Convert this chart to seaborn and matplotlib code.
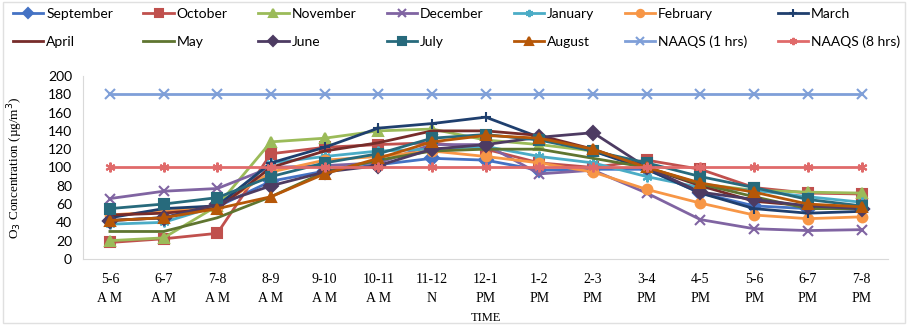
import numpy as np
import pandas as pd
import matplotlib
matplotlib.use("Agg")
import matplotlib.pyplot as plt
import seaborn as sns

# time slots on the x axis
time_labels = ["5-6\nA M", "6-7\nA M", "7-8\nA M", "8-9\nA M", "9-10\nA M",
               "10-11\nA M", "11-12\nN", "12-1\nPM", "1-2\nPM", "2-3\nPM",
               "3-4\nPM", "4-5\nPM", "5-6\nPM", "6-7\nPM", "7-8\nPM"]

september = [42, 45, 57, 85, 96, 103, 110, 108, 97, 98, 98, 72, 58, 55, 55]
october   = [18, 22, 28, 115, 122, 125, 127, 120, 105, 100, 108, 98, 78, 72, 71]
november  = [20, 23, 58, 128, 132, 140, 142, 130, 125, 118, 100, 82, 75, 73, 72]
december  = [66, 74, 77, 100, 102, 105, 125, 125, 93, 97, 72, 43, 33, 31, 32]
january   = [38, 40, 58, 105, 112, 118, 120, 123, 112, 105, 90, 78, 75, 68, 62]
february  = [48, 52, 57, 95, 108, 112, 118, 112, 105, 95, 76, 61, 48, 44, 46]
march     = [45, 55, 58, 105, 122, 143, 148, 155, 133, 118, 98, 72, 55, 50, 52]
april     = [48, 50, 55, 100, 118, 127, 140, 140, 135, 120, 100, 80, 63, 58, 55]
may       = [30, 30, 45, 68, 95, 108, 118, 120, 120, 110, 100, 82, 68, 55, 55]
june      = [42, 45, 60, 80, 95, 102, 120, 125, 133, 138, 100, 73, 65, 58, 55]
july      = [55, 60, 67, 90, 105, 115, 132, 136, 130, 118, 105, 90, 78, 65, 58]
august    = [42, 45, 55, 68, 93, 110, 128, 135, 132, 120, 100, 83, 73, 60, 57]
naaqs_1hr = [180] * 15
naaqs_8hr = [100] * 15

series_names = ["September", "October", "November", "December", "January",
                "February", "March", "April", "May", "June", "July", "August",
                "NAAQS (1 hrs)", "NAAQS (8 hrs)"]
series_values = [september, october, november, december, january, february,
                 march, april, may, june, july, august, naaqs_1hr, naaqs_8hr]

colors = ["#4472C4", "#C0504D", "#9BBB59", "#8064A2", "#4BACC6", "#F79646",
          "#1F3F6E", "#772C2A", "#5F7530", "#4D3B62", "#276A7C", "#B65708",
          "#7F9FD8", "#E06A6A"]
markers = ["D", "s", "^", "x", (6, 2, 0), "o", "+", None, None, "D", "s", "^",
           "x", (6, 2, 0)]

fig = plt.figure(figsize=(9.13, 3.29), dpi=100)
ax = fig.add_axes([0.091, 0.213, 0.882, 0.556])

for name, vals, c, m in zip(series_names, series_values, colors, markers):
    df = pd.DataFrame({"idx": np.arange(len(vals)), "value": vals})
    kw = dict(marker=m, markersize=7, markeredgecolor=c, markerfacecolor=c,
              markeredgewidth=1.5) if m is not None else {}
    sns.lineplot(data=df, x="idx", y="value", color=c, linewidth=2,
                 label=name, ax=ax, **kw)

ax.set_xlim(-0.5, 14.5)
ax.set_ylim(0, 200)
ax.set_yticks(range(0, 201, 20))
ax.set_xticks(range(15))
ax.set_xticklabels(time_labels, family="Liberation Serif", fontsize=10,
                   linespacing=1.6)
for t in ax.get_yticklabels():
    t.set_family("Lato")
    t.set_fontsize(10)
ax.tick_params(axis="y", length=0, pad=8)
ax.tick_params(axis="x", length=0, pad=10)
for s in ["top", "right"]:
    ax.spines[s].set_visible(False)
for s in ["left", "bottom"]:
    ax.spines[s].set_color("#D9D9D9")
ax.set_xlabel("TIME", family="Liberation Serif", fontsize=9, labelpad=5)
ax.set_ylabel("O$_3$ Concentration (µg/m$^3$)", family="Liberation Serif",
              fontsize=9.5, labelpad=16)

# legend: 7 columns, filled row-wise like the original
handles, labels = ax.get_legend_handles_labels()
order = []
for col in range(7):
    order += [col, col + 7]
ax.legend([handles[i] for i in order], [labels[i] for i in order],
          ncol=7, loc="upper left", bbox_to_anchor=(0.005, 1.0, 0.99, 0.0),
          bbox_transform=fig.transFigure, mode="expand", frameon=False,
          prop={"family": "Lato", "size": 10}, handlelength=2.2,
          handletextpad=0.2, labelspacing=1.1, borderaxespad=0.2,
          markerscale=0.75)

fig.patches.append(plt.Rectangle((0.003, 0.018), 0.988, 0.975,
                                 transform=fig.transFigure, fill=False,
                                 edgecolor="#E0E0E0", linewidth=1))

fig.savefig("out.png", dpi=100)
